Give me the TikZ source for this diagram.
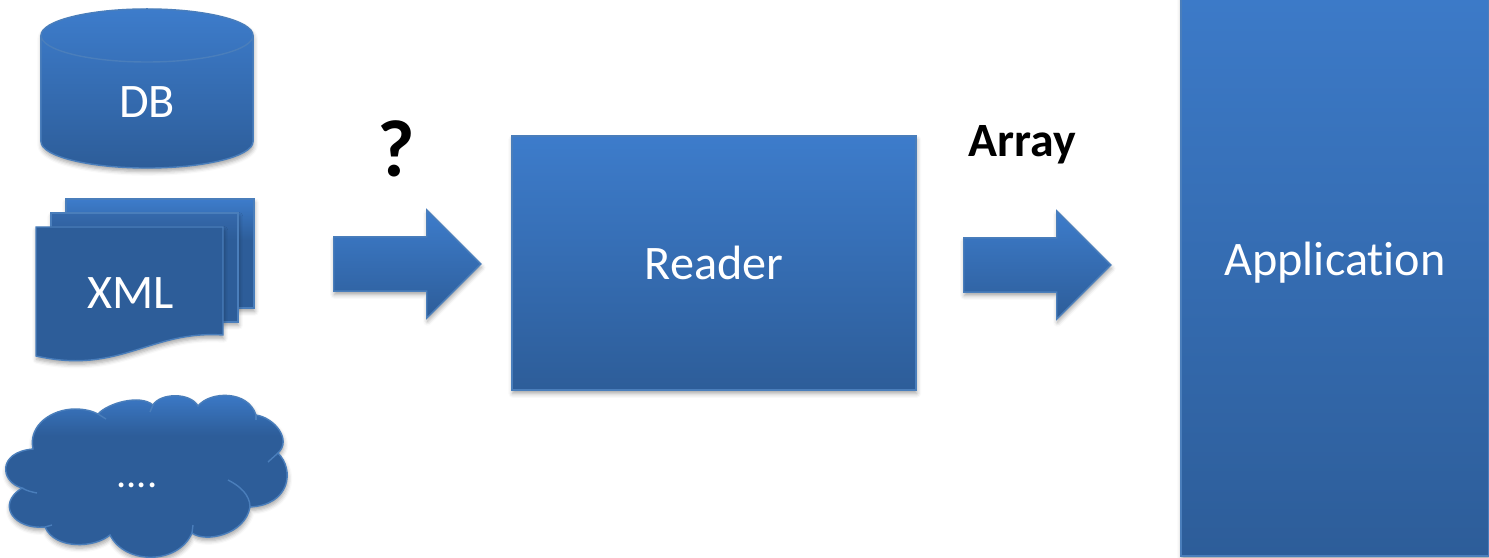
\documentclass[tikz,border=0pt]{standalone}
\usepackage{fontspec}
\setmainfont{Carlito}[Ligatures=NoCommon]
\usepackage{tikz}
\usetikzlibrary{shapes.geometric,shapes.arrows,shadows.blur}

\definecolor{topblue}{HTML}{3D7CCB}
\definecolor{lowblue}{HTML}{2D5D99}
\definecolor{midblue}{HTML}{3569AC}
\definecolor{edgeblue}{HTML}{4A7EBB}

\pgfdeclareverticalshading{backsheet}{100bp}{color(0bp)=(lowblue); color(56bp)=(lowblue); color(75bp)=(topblue); color(100bp)=(topblue)}
\pgfdeclareverticalshading{midsheet}{100bp}{color(0bp)=(lowblue); color(63bp)=(lowblue); color(75bp)=(midblue); color(100bp)=(midblue)}
\pgfdeclareverticalshading{cloudshade}{100bp}{color(0bp)=(lowblue); color(62bp)=(lowblue); color(75bp)=(topblue); color(100bp)=(topblue)}

\begin{document}
\begin{tikzpicture}[x=0.01cm,y=-0.01cm,
    softshadow/.style={blur shadow={shadow xshift=0.2pt,shadow yshift=-1pt,shadow blur radius=1.2pt,shadow opacity=35}},
    block/.style={draw=edgeblue,line width=0.4pt,top color=topblue,bottom color=lowblue,softshadow},
    blocktext/.style={text=white,font=\fontsize{13.7}{16}\selectfont},
    blockarrow/.style={block,single arrow,single arrow tip angle=90,single arrow head indent=0pt,minimum width=1.08cm,minimum height=1.47cm,inner sep=0pt,text width=0cm,text height=0.49cm,anchor=tail},
    sheet/.style={draw=edgeblue,line width=0.4pt,softshadow},
    puffline/.style={draw=edgeblue,line width=0.4pt},
    caption/.style={font=\fontsize{13.6}{16}\selectfont\bfseries}]

    \useasboundingbox (0,0) rectangle (1489,558);

    % sources
    \node (db) at (147,88.5) [block,blocktext,cylinder,anchor=shape center,shape border rotate=90,aspect=0.95,minimum width=2.12cm,minimum height=1.59cm,inner sep=0pt] {DB};

    \path[sheet,shading=backsheet] (66,199) -- (254,199) -- (254,308) -- (66,308) -- cycle;
    \path[sheet,shading=midsheet] (51,213) -- (238,213) -- (238,322) -- (51,322) -- cycle;
    \path[sheet,fill=lowblue] (36,227) -- (223,227) -- (223,335) .. controls (150,330) and (120,375) .. (36,356) -- cycle;
    \node (xml) at (131,293) [blocktext] {XML};

    \path[sheet,shading=cloudshade] (33,449)
        .. controls (28,425) and (52,409) .. (75,409)
        .. controls (85,409) and (92,411) .. (98,414)
        .. controls (108,403) and (140,394) .. (153,405)
        .. controls (160,393) and (190,392) .. (198,406)
        .. controls (210,391) and (248,390) .. (256,415)
        .. controls (275,418) and (292,440) .. (278,453)
        .. controls (295,470) and (290,505) .. (250,507)
        .. controls (245,535) and (205,543) .. (192,533)
        .. controls (178,565) and (125,565) .. (110,535)
        .. controls (95,548) and (55,550) .. (45,527)
        .. controls (15,530) and (-5,505) .. (22,488)
        .. controls (0,482) and (-3,452) .. (33,449) -- cycle;
    \draw[puffline] (22,488) .. controls (27,491) and (32,492) .. (37,493);
    \draw[puffline] (45,527) -- (52,525);
    \draw[puffline] (192,533) -- (193,525);
    \draw[puffline] (250,507) .. controls (250,495) and (240,486) .. (228,480);
    \draw[puffline] (278,453) -- (268,462);
    \draw[puffline] (256,415) -- (256,420);
    \draw[puffline] (153,405) -- (150,412);
    \draw[puffline] (98,414) -- (106,419);
    \node (more) at (137,485) [text=white,font=\fontsize{11.5}{14}\selectfont] {....};

    % flow
    \node (arrowin) at (333,264) [blockarrow] {};
    \node (reader) at (714,263) [block,blocktext,minimum width=4.04cm,minimum height=2.54cm,text depth=0pt] {Reader};
    \node (arrowout) at (963,265) [blockarrow] {};
    \node (app) at (1335,260) [block,blocktext,minimum width=3.08cm,minimum height=5.92cm,text height=0.394cm] {Application};

    \node (unknown) at (396,149) [font=\fontsize{23}{26}\selectfont\bfseries] {?};
    \node (array) at (1022,145) [caption] {Array};

\end{tikzpicture}
\end{document}
